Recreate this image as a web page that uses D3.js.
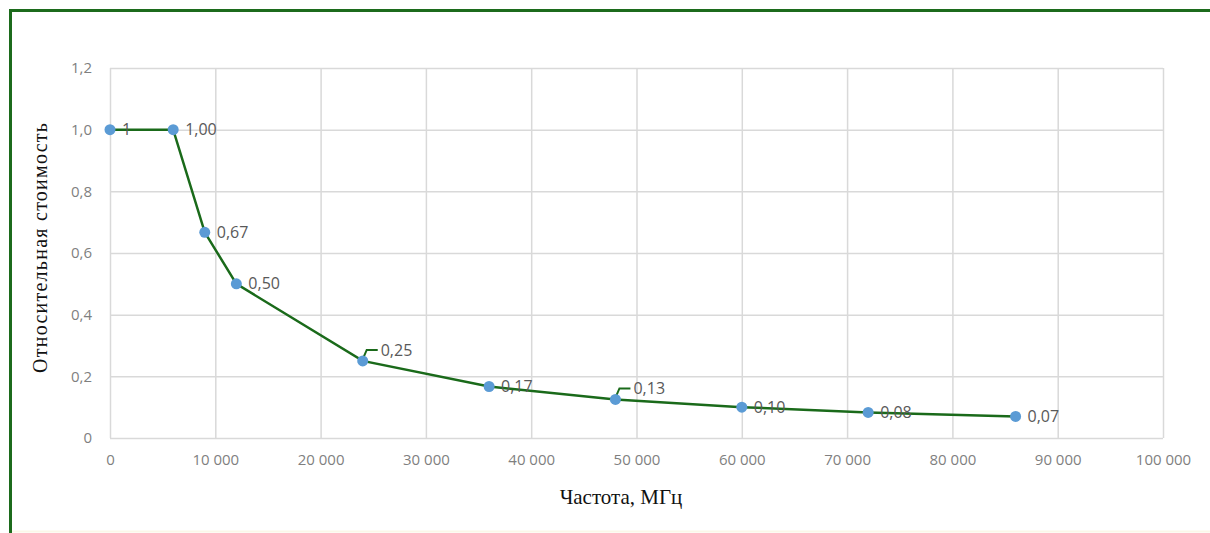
<!DOCTYPE html>
<html>
<head>
<meta charset="utf-8">
<script src="https://cdn.jsdelivr.net/npm/d3@7"></script>
<style>
  body { margin: 0; background: #fff; }
  svg { display: block; }
  .tick text { font-family: 'Open Sans', sans-serif; fill: #7f7f7f; font-size: 15px; }
</style>
</head>
<body>
<div id="chart"></div>
<script>
// frequency, MHz
const freqs = [0, 6000, 9000, 12000, 24000, 36000, 48000, 60000, 72000, 86000]
// relative cost
const costs = [1, 1, 0.667, 0.5, 0.25, 0.167, 0.125, 0.1, 0.083, 0.07]
const labels = ['1', '1,00', '0,67', '0,50', '0,25', '0,17', '0,13', '0,10', '0,08', '0,07']
// labels pulled up with a leader line
const raised = [false, false, false, false, true, false, true, false, false, false]

const xTicks = [0, 10000, 20000, 30000, 40000, 50000, 60000, 70000, 80000, 90000, 100000]
const yTicks = [0, 0.2, 0.4, 0.6, 0.8, 1.0, 1.2]

const W = 1210
const H = 533
const margin = { top: 68, right: 47, bottom: 95, left: 110 }
const width = W - margin.left - margin.right
const height = H - margin.top - margin.bottom

const svgRoot = d3.select('#chart').append('svg')
  .attr('width', W)
  .attr('height', H)

// green frame (top and left)
svgRoot.append('path')
  .attr('d', 'M10.5,533 L10.5,10.5 L1210,10.5')
  .attr('fill', 'none')
  .attr('stroke', '#1c6b1c')
  .attr('stroke-width', 3)
svgRoot.append('line')
  .attr('x1', 12).attr('x2', W).attr('y1', 531.5).attr('y2', 531.5)
  .attr('stroke', '#fbf7e8').attr('stroke-width', 2)

const svg = svgRoot.append('g')
  .attr('transform', 'translate(' + margin.left + ',' + margin.top + ')')

const x = d3.scaleLinear().domain([0, 100000]).range([0, width])
const y = d3.scaleLinear().domain([0, 1.2]).range([height, 0])

const fmtX = d => d === 0 ? '0' : d3.format(',')(d).replace(/,/g, ' ')
const fmtY = d => d === 0 ? '0' : d3.format('.1f')(d).replace('.', ',')

// gridlines
svg.append('g')
  .attr('class', 'x-grid')
  .attr('transform', 'translate(0,' + height + ')')
  .call(d3.axisBottom(x).tickValues(xTicks).tickSize(-height).tickFormat(fmtX).tickPadding(16))
svg.append('g')
  .attr('class', 'y-grid')
  .call(d3.axisLeft(y).tickValues(yTicks).tickSize(-width).tickFormat(fmtY).tickPadding(18))

svg.selectAll('.domain').remove()
svg.selectAll('.tick line').attr('stroke', '#d9d9d9').attr('stroke-width', 1.5)

const pts = freqs.map((f, i) => ({ f: f, c: costs[i], label: labels[i], raised: raised[i] }))

const line = d3.line().x(d => x(d.f)).y(d => y(d.c))

svg.append('path')
  .datum(pts)
  .attr('fill', 'none')
  .attr('stroke', '#1a6a1a')
  .attr('stroke-width', 2.5)
  .attr('d', line)

// leader lines
svg.selectAll('.leader')
  .data(pts.filter(d => d.raised))
  .enter()
  .append('path')
  .attr('class', 'leader')
  .attr('fill', 'none')
  .attr('stroke', '#1a6a1a')
  .attr('stroke-width', 2)
  .attr('d', d => {
    const px = x(d.f), py = y(d.c)
    return 'M' + (px + 1) + ',' + (py - 4) + ' L' + (px + 4) + ',' + (py - 11) + ' L' + (px + 15) + ',' + (py - 11)
  })

svg.selectAll('circle')
  .data(pts)
  .enter()
  .append('circle')
  .attr('cx', d => x(d.f))
  .attr('cy', d => y(d.c))
  .attr('r', 5.5)
  .attr('fill', '#5b9bd5')

svg.selectAll('.lbl')
  .data(pts)
  .enter()
  .append('text')
  .attr('class', 'lbl')
  .attr('x', d => x(d.f) + (d.raised ? 18 : 12))
  .attr('y', d => y(d.c) + (d.raised ? -11 : 0))
  .attr('dy', '0.35em')
  .attr('font-family', "'Open Sans', sans-serif")
  .attr('font-size', 16)
  .attr('fill', '#595959')
  .text(d => d.label)

// axis titles
svgRoot.append('text')
  .attr('transform', 'translate(47,248) rotate(-90)')
  .attr('text-anchor', 'middle')
  .attr('font-family', "'Liberation Serif', 'DejaVu Serif', serif")
  .attr('font-size', 20)
  .attr('textLength', 250)
  .attr('fill', '#111')
  .text('Относительная стоимость')

svgRoot.append('text')
  .attr('x', 621)
  .attr('y', 504)
  .attr('text-anchor', 'middle')
  .attr('font-family', "'Liberation Serif', 'DejaVu Serif', serif")
  .attr('font-size', 21)
  .attr('fill', '#111')
  .text('Частота, МГц')
</script>
</body>
</html>
